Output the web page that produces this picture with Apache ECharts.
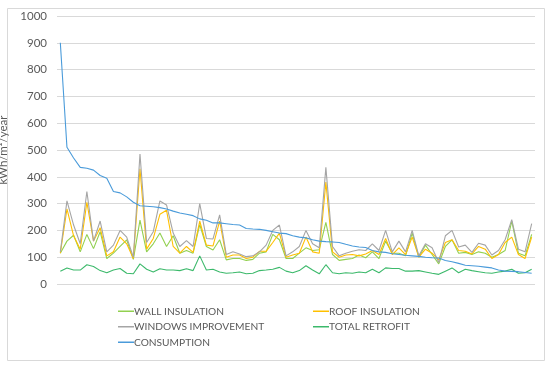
<!DOCTYPE html>
<html><head><meta charset="utf-8">
<script src="https://cdn.jsdelivr.net/npm/echarts@6/dist/echarts.min.js"></script>
<style>html,body{margin:0;padding:0;background:#fff}#c{width:550px;height:368px}</style>
</head><body><div id="c"></div>
<script>
const categories = Array.from({length:72}, (_, i) => String(i + 1));
const wallInsulation = [115,160,182,120,185,132,195,95,115,140,165,92,238,120,150,190,140,180,115,125,115,222,140,127,165,90,95,95,88,92,115,120,185,165,95,95,115,135,125,128,230,110,88,92,95,108,98,120,95,160,115,115,105,190,100,145,110,75,140,165,115,118,110,120,115,100,110,125,235,115,105,185];
const roofInsulation = [115,280,180,130,305,160,210,105,120,175,150,95,430,130,170,260,275,140,115,140,118,235,145,142,235,100,108,108,95,100,122,122,155,190,100,108,115,175,120,115,380,120,100,108,110,105,112,125,110,170,110,135,110,175,100,130,115,90,155,165,125,122,112,140,130,95,110,155,175,110,95,175];
const windowsImprovement = [120,310,220,150,345,160,235,120,145,200,175,100,485,155,195,310,295,190,140,162,140,300,170,168,258,110,120,112,102,105,120,145,200,220,105,120,140,200,150,135,435,140,105,115,122,128,125,150,125,200,120,160,120,200,105,150,135,80,180,200,138,145,118,152,145,108,125,165,240,130,120,225];
const totalRetrofit = [48,60,52,52,72,65,50,42,52,58,40,38,75,55,45,57,52,52,50,57,50,105,52,55,45,40,42,45,38,40,50,52,55,62,48,42,50,68,52,38,72,42,38,42,40,45,42,55,42,60,58,58,48,48,50,45,40,36,48,60,42,55,50,46,42,40,45,48,55,40,42,55];
const consumption = [900,510,470,435,432,425,405,395,345,340,325,305,292,290,288,285,280,272,265,260,255,243,238,228,228,225,222,220,207,205,204,200,195,190,188,180,175,172,165,160,158,157,155,148,142,138,136,125,120,118,113,110,107,105,103,100,98,97,88,83,77,70,68,66,63,60,52,48,47,46,43,40];
const yTicks = [0,100,200,300,400,500,600,700,800,900,1000];

const FONT = 'Lato, "Open Sans", sans-serif';
const COLORS = {wall:'#92D050', roof:'#FFC000', win:'#A5A5A5', total:'#3CB96B', cons:'#4A9BDA'};
const mk = (name, data, color) => ({
  name, type:'line', data, symbol:'none', smooth:false, color,
  lineStyle:{width:1.1, color}, itemStyle:{color}, emphasis:{disabled:true}
});
const legendBox = (names, left) => ({
  data: names.map(n => ({name:n})),
  left, top:300, orient:'vertical', itemGap:3, itemWidth:16, itemHeight:1.5,
  icon:'rect',
  itemStyle:{borderWidth:0},
  textStyle:{color:'#595959', fontSize:10.2, fontFamily:FONT, padding:[0,0,0,-5], lineHeight:12.5}
});
const chart = echarts.init(document.getElementById('c'), null, {renderer:'canvas'});
chart.setOption({
  animation:false,
  backgroundColor:'#fff',
  textStyle:{fontFamily:FONT},
  graphic:[{type:'rect', shape:{x:7.5,y:8.5,width:537,height:352}, style:{fill:'none', stroke:'#D9D9D9', lineWidth:1}, silent:true}],
  grid:{left:57, right:15, top:16, bottom:84, outerBoundsMode:'none', containLabel:false},
  xAxis:{type:'category', data:categories, boundaryGap:true,
    axisLine:{show:false}, axisTick:{show:false}, axisLabel:{show:false}, splitLine:{show:false}},
  yAxis:{type:'value', min:yTicks[0], max:yTicks[yTicks.length-1], interval:100,
    name:'kWh/m\u00b2/year', nameLocation:'middle', nameGap:37, nameRotate:90,
    nameTextStyle:{color:'#595959', fontSize:11.5, fontFamily:FONT},
    axisLine:{show:false}, axisTick:{show:false},
    axisLabel:{color:'#595959', fontSize:11.5, fontFamily:FONT, margin:10, formatter:v => String(v)},
    splitLine:{lineStyle:{color:'#D9D9D9', width:1}}},
  legend:[
    legendBox(['WALL INSULATION','WINDOWS IMPROVEMENT','CONSUMPTION'], 113),
    legendBox(['ROOF INSULATION','TOTAL RETROFIT'], 308)
  ],
  series:[
    mk('WALL INSULATION', wallInsulation, COLORS.wall),
    mk('ROOF INSULATION', roofInsulation, COLORS.roof),
    mk('WINDOWS IMPROVEMENT', windowsImprovement, COLORS.win),
    mk('TOTAL RETROFIT', totalRetrofit, COLORS.total),
    mk('CONSUMPTION', consumption, COLORS.cons)
  ]
});
</script></body></html>
